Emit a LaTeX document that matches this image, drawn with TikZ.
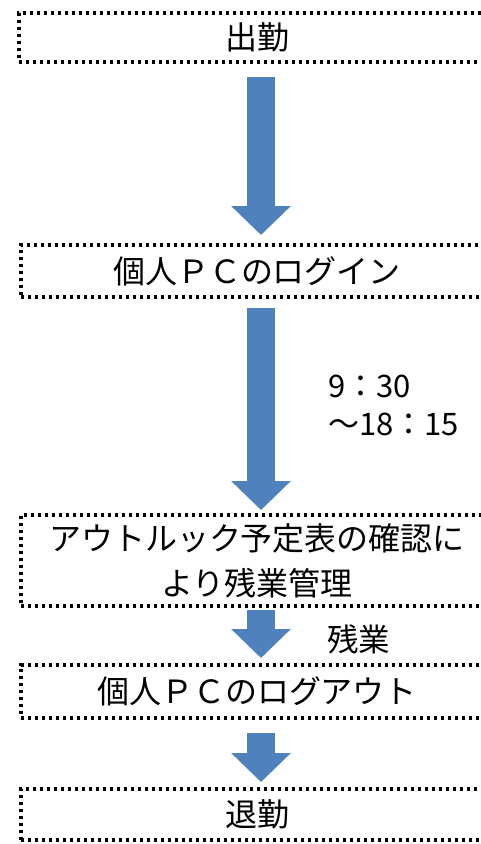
\documentclass[tikz,border=0pt]{standalone}
\usepackage{fontspec}
\setmainfont{Noto Sans CJK JP}
\usetikzlibrary{arrows.meta}
\definecolor{arrowblue}{HTML}{4F81BD}
\tikzset{
  stepbox/.style={draw=black, line width=3.2pt, dash pattern=on 3.4pt off 3.6pt,
    minimum width=472pt, inner sep=0pt, outer sep=0pt, align=center,
    font=\fontsize{32}{45}\selectfont},
  blockarrow/.style={draw=arrowblue, line width=28pt,
    -{Triangle[width=58pt,length=29pt]}},
  sidelabel/.style={anchor=base west, inner sep=0pt, font=\fontsize{31}{38}\selectfont}
}
\begin{document}
\begin{tikzpicture}[x=1pt,y=-1pt]
\useasboundingbox (0,0) rectangle (481,844);
\clip (0,0) rectangle (481,844);
\node[stepbox, minimum height=49pt, minimum width=476pt] (b1) at (257,37.5) {出勤};
\node[stepbox, minimum height=52pt] (b2) at (257,271) {個人ＰＣのログイン};
\node[stepbox, minimum height=91pt] (b3) at (257,560.5) {アウトルック予定表の確認に\\より残業管理};
\node[stepbox, minimum height=53pt] (b4) at (257,691.5) {個人ＰＣのログアウト};
\node[stepbox, minimum height=51pt] (b5) at (257,814.5) {退勤};
\draw[blockarrow, shorten <=15pt, shorten >=10pt] ([xshift=4pt]b1.south) -- ([xshift=4pt]b2.north);
\draw[blockarrow, shorten <=11pt, shorten >=5pt] ([xshift=4pt]b2.south) -- ([xshift=4pt]b3.north);
\draw[blockarrow, shorten <=4pt, shorten >=7pt] ([xshift=4pt]b3.south) -- ([xshift=4pt]b4.north);
\draw[blockarrow, shorten <=15pt, shorten >=7pt] ([xshift=4pt]b4.south) -- ([xshift=4pt]b5.north);
\node[sidelabel] (t1) at (328,397) {9：30};
\node[sidelabel] (t2) at (328,435) {～18：15};
\node[sidelabel, font=\fontsize{31.5}{38}\selectfont] (t3) at (327,651) {残業};
\end{tikzpicture}
\end{document}
